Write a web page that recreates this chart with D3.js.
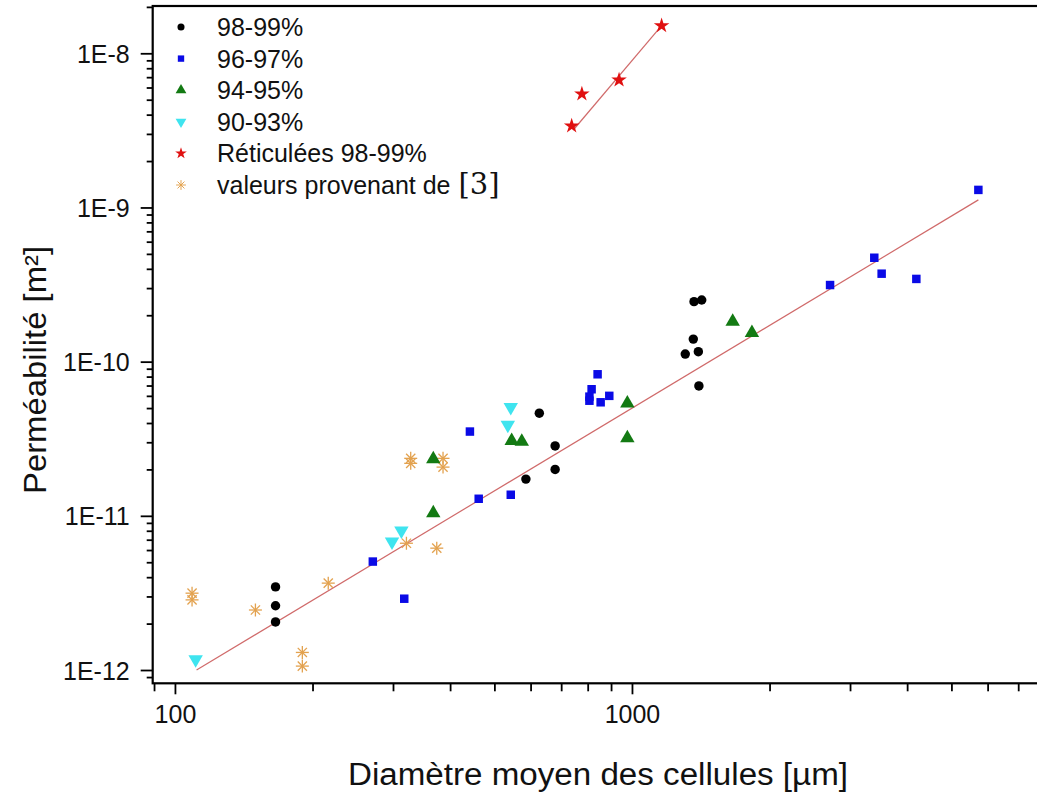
<!DOCTYPE html>
<html><head><meta charset="utf-8">
<script src="https://cdn.jsdelivr.net/npm/d3@7"></script>
<style>html,body{margin:0;padding:0;background:#fff;overflow:hidden}</style>
</head><body><svg id="c" width="1037" height="792"></svg>
<script>
// ---- data (x: mean cell diameter µm, y: permeability m²) ----
const s98x = [166, 166, 166, 627, 679, 679, 586, 1367, 1421, 1362, 1308, 1397, 1401];
const s98y = [3.46e-12, 2.61e-12, 2.05e-12, 4.63e-11, 2.84e-11, 2.0e-11, 1.73e-11, 2.45e-10, 2.51e-10, 1.40e-10, 1.12e-10, 1.16e-10, 6.96e-11];
const s96x = [271, 317.5, 442, 462, 543, 841, 816, 807, 807, 854, 892, 2713, 3390, 3518, 4190, 5727];
const s96y = [5.05e-12, 2.90e-12, 3.52e-11, 1.29e-11, 1.37e-11, 8.28e-11, 6.62e-11, 5.93e-11, 5.58e-11, 5.45e-11, 6.0e-11, 3.14e-10, 4.72e-10, 3.72e-10, 3.44e-10, 1.30e-9];
const s94x = [367.5, 545.5, 574, 367.5, 977, 977, 1661, 1830];
const s94y = [2.33e-11, 3.07e-11, 3.03e-11, 1.04e-11, 5.37e-11, 3.19e-11, 1.82e-10, 1.54e-10];
const s90x = [111, 298.5, 313, 535, 543];
const s90y = [1.17e-12, 6.8e-12, 8.02e-12, 3.89e-11, 5.06e-11];
const retx = [738, 777, 937, 1161];
const rety = [3.38e-9, 5.45e-9, 6.71e-9, 1.51e-8];
const refx = [109, 109, 150, 190, 190, 216.5, 328, 328, 386, 386, 321, 374];
const refy = [3.15e-12, 2.85e-12, 2.45e-12, 1.30e-12, 1.06e-12, 3.66e-12, 2.36e-11, 2.19e-11, 2.36e-11, 2.07e-11, 6.64e-12, 6.17e-12];
const fitX = [111.5, 5727];
const fitY = [1.0e-12, 1.12e-9];
const fitRetX = [744, 1161];
const fitRetY = [3.18e-9, 1.51e-8];
const legendLabels = ["98-99%", "96-97%", "94-95%", "90-93%", "Réticulées 98-99%", "valeurs provenant de"];
const xTickLabels = ["100", "1000"];
const yTickLabels = ["1E-12", "1E-11", "1E-10", "1E-9", "1E-8"];
const xTitle = "Diamètre moyen des cellules [µm]";
const yTitle = "Perméabilité [m²]";

// ---- layout ----
const L = 152.7, R = 1050, T = 6, B = 683.3;
const svg = d3.select("#c");
const x = d3.scaleLog().domain([89.4, 100 * Math.pow(10, (R - 175) / 457)]).range([L, R]);
const y = d3.scaleLog().domain([Math.pow(10, -12 - (B - 670) / 154.2), Math.pow(10, -8 + (53.3 - T) / 154.2)]).range([B, T]);

const font = "'Liberation Sans', Arial, sans-serif";

// ---- axes ----
const xMajor = xTickLabels.map(Number);
const xMinor = x.ticks().filter(v => !xMajor.includes(v) && x(v) <= 1037 && x(v) > L);
const yMajor = yTickLabels.map(Number);
const yMinor = y.ticks().filter(v => !yMajor.some(m => Math.abs(m - v) / v < 1e-6) && y(v) >= T && y(v) <= B);

const xAxisMinor = d3.axisBottom(x).tickValues(xMinor).tickSize(8).tickFormat("");
const xAxisMajor = d3.axisBottom(x).tickValues(xMajor).tickSize(11).tickPadding(11).tickFormat((d, i) => xTickLabels[i]);
const yAxisMinor = d3.axisLeft(y).tickValues(yMinor).tickSize(6).tickFormat("");
const yAxisMajor = d3.axisLeft(y).tickValues(yMajor).tickSize(12).tickPadding(11).tickFormat((d, i) => yTickLabels[i]);

function styleAxis(g) {
  g.select(".domain").remove();
  g.selectAll("line").attr("stroke", "#000").attr("stroke-width", 1.8);
  g.selectAll("text").attr("font-family", font).attr("font-size", 25).attr("fill", "#111");
}
svg.append("g").attr("transform", `translate(0,${B})`).call(xAxisMinor).call(styleAxis);
svg.append("g").attr("transform", `translate(0,${B})`).call(xAxisMajor).call(styleAxis);
svg.append("g").attr("transform", `translate(${L},0)`).call(yAxisMinor).call(styleAxis);
svg.append("g").attr("transform", `translate(${L},0)`).call(yAxisMajor).call(styleAxis)
  .selectAll("text").attr("dy", "0.36em");

// frame (right side off-canvas)
svg.append("rect").attr("x", L).attr("y", T).attr("width", R - L).attr("height", B - T)
  .attr("fill", "none").attr("stroke", "#000").attr("stroke-width", 2.2);

// titles
svg.append("text").attr("x", 598).attr("y", 785).attr("text-anchor", "middle")
  .attr("font-family", font).attr("font-size", 31).attr("fill", "#111")
  .attr("textLength", 500).attr("lengthAdjust", "spacingAndGlyphs").text(xTitle);
svg.append("text").attr("transform", "translate(46,370) rotate(-90)").attr("text-anchor", "middle")
  .attr("font-family", font).attr("font-size", 31).attr("fill", "#111")
  .attr("textLength", 248).attr("lengthAdjust", "spacingAndGlyphs").text(yTitle);

// ---- fit lines ----
const line = d3.line().x(d => x(d[0])).y(d => y(d[1]));
svg.append("path").datum(d3.zip(fitX, fitY)).attr("d", line)
  .attr("stroke", "#d06a6a").attr("stroke-width", 1.2).attr("fill", "none");
svg.append("path").datum(d3.zip(fitRetX, fitRetY)).attr("d", line)
  .attr("stroke", "#d06a6a").attr("stroke-width", 1.2).attr("fill", "none");

// ---- markers ----
const sym = {
  circle: d3.symbol().type(d3.symbolCircle).size(70)(),
  square: d3.symbol().type(d3.symbolSquare).size(72)(),
  tri: d3.symbol().type(d3.symbolTriangle).size(90)(),
  star: d3.symbol().type(d3.symbolStar).size(75)()
};
function asterisk(g, s) {
  [0, 45, 90, 135].forEach(a => {
    const r = a * Math.PI / 180;
    g.append("line").attr("x1", -s * Math.cos(r)).attr("y1", -s * Math.sin(r))
      .attr("x2", s * Math.cos(r)).attr("y2", s * Math.sin(r))
      .attr("stroke", "#e3a24f").attr("stroke-width", 1.3);
  });
}
function drawSeries(xs, ys, kind, color) {
  const g = svg.append("g");
  xs.forEach((xv, i) => {
    const p = g.append("g").attr("transform", `translate(${x(xv)},${y(ys[i])})`);
    drawMarker(p, kind, color);
  });
}
function drawMarker(p, kind, color) {
  if (kind === "ast") { asterisk(p, 6.5); return; }
  if (kind === "down") { p.append("path").attr("d", sym.tri).attr("transform", "rotate(180)").attr("fill", color); return; }
  p.append("path").attr("d", sym[kind]).attr("fill", color);
}
drawSeries(refx, refy, "ast", "#e3a24f");
drawSeries(s90x, s90y, "down", "#3fe4ef");
drawSeries(s94x, s94y, "tri", "#137a13");
drawSeries(s96x, s96y, "square", "#0a0ae6");
drawSeries(s98x, s98y, "circle", "#000");
drawSeries(retx, rety, "star", "#e01010");

// ---- legend ----
const legKinds = [["circle", "#000"], ["square", "#0a0ae6"], ["tri", "#137a13"], ["down", "#3fe4ef"], ["star", "#e01010"], ["ast", "#e3a24f"]];
const legY = d3.scaleLinear().domain([0, 5]).range([27, 185]);
legendLabels.forEach((lab, i) => {
  const p = svg.append("g").attr("transform", `translate(181,${legY(i)}) scale(0.75)`);
  drawMarker(p, legKinds[i][0], legKinds[i][1]);
  const t = svg.append("text").attr("x", 217).attr("y", legY(i) + 9)
    .attr("font-family", font).attr("font-size", 25).attr("fill", "#111").text(lab);
  if (i === 5) {
    t.append("tspan").attr("font-family", "'DejaVu Serif', 'Liberation Serif', serif").attr("font-size", 29)
      .attr("dx", 8).text("[3]");
  }
});
</script></body></html>
